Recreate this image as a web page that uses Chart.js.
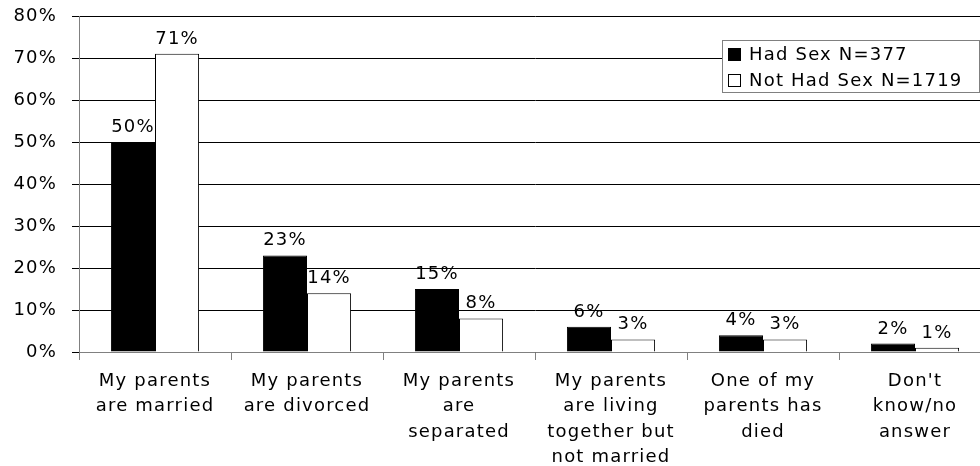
<!DOCTYPE html>
<html>
<head>
<meta charset="utf-8">
<script src="https://cdn.jsdelivr.net/npm/chart.js@4/dist/chart.umd.min.js"></script>
<style>
  html, body { margin: 0; padding: 0; background: #fff; overflow: hidden; }
  #wrap { width: 1000px; height: 466px; }
</style>
</head>
<body>
<div id="wrap"><canvas id="parentsChart" width="1000" height="466"></canvas></div>
<script>
var categories = [
    ['My parents', 'are married'],
    ['My parents', 'are divorced'],
    ['My parents', 'are', 'separated'],
    ['My parents', 'are living', 'together but', 'not married'],
    ['One of my', 'parents has', 'died'],
    ["Don't", 'know/no', 'answer']
];
var hadSex = [50, 23, 15, 6, 4, 2];
var notHadSex = [71, 14, 8, 3, 3, 1];
var seriesLabels = ['Had Sex N=377', 'Not Had Sex N=1719'];
var yTicks = [0, 10, 20, 30, 40, 50, 60, 70, 80];

var FONT = '"DejaVu Sans", Verdana, sans-serif';
var SPACING = '1.2px';

// wider letter spacing, closer to the original Verdana look
var spacing = {
    id: 'spacing',
    beforeLayout: function(chart) { chart.ctx.letterSpacing = SPACING; },
    beforeDraw: function(chart) { chart.ctx.letterSpacing = SPACING; }
};

// value labels above each bar
var valueLabels = {
    id: 'valueLabels',
    afterDatasetsDraw: function(chart) {
        var ctx = chart.ctx;
        ctx.save();
        ctx.letterSpacing = SPACING;
        ctx.font = '18px ' + FONT;
        ctx.fillStyle = '#000';
        ctx.textAlign = 'center';
        ctx.textBaseline = 'alphabetic';
        chart.data.datasets.forEach(function(ds, i) {
            chart.getDatasetMeta(i).data.forEach(function(bar, j) {
                ctx.fillText(ds.data[j] + '%', bar.x, bar.y - 10);
            });
        });
        ctx.restore();
    }
};

// boxed legend inside the plot, top right
var boxLegend = {
    id: 'boxLegend',
    afterDraw: function(chart) {
        var ctx = chart.ctx;
        var x = 722, y = 40, w = 257, h = 52;
        ctx.save();
        ctx.letterSpacing = SPACING;
        ctx.fillStyle = '#fff';
        ctx.fillRect(x, y, w, h);
        ctx.strokeStyle = '#808080';
        ctx.lineWidth = 1;
        ctx.strokeRect(x + 0.5, y + 0.5, w, h);
        ctx.font = '18px ' + FONT;
        ctx.textBaseline = 'middle';
        chart.data.datasets.forEach(function(ds, i) {
            var cy = y + 14 + i * 26;
            ctx.fillStyle = ds.backgroundColor;
            ctx.fillRect(x + 6, cy - 6, 13, 13);
            ctx.strokeStyle = '#000';
            ctx.strokeRect(x + 6.5, cy - 5.5, 12, 12);
            ctx.fillStyle = '#000';
            ctx.fillText(ds.label, x + 27, cy + 1);
        });
        ctx.restore();
    }
};

function renderChart() {
    var ctx = document.getElementById('parentsChart').getContext('2d');
    new Chart(ctx, {
        type: 'bar',
        data: {
            labels: categories,
            datasets: [{
                label: seriesLabels[0],
                data: hadSex,
                backgroundColor: '#000000',
                borderColor: '#000000',
                borderWidth: 1
            }, {
                label: seriesLabels[1],
                data: notHadSex,
                backgroundColor: '#ffffff',
                borderColor: '#000000',
                borderWidth: 1
            }]
        },
        options: {
            responsive: false,
            animation: false,
            categoryPercentage: 0.58,
            barPercentage: 1.0,
            layout: { padding: { top: 16, right: 9, left: 0, bottom: 0 } },
            plugins: {
                legend: { display: false },
                tooltip: { enabled: false }
            },
            scales: {
                x: {
                    offset: true,
                    grid: {
                        offset: true,
                        drawOnChartArea: false,
                        drawTicks: true,
                        tickLength: 8,
                        color: '#808080'
                    },
                    border: { color: '#808080' },
                    ticks: {
                        color: '#000',
                        font: { family: FONT, size: 18, lineHeight: 1.4 },
                        padding: 9,
                        maxRotation: 0,
                        autoSkip: false
                    },
                    afterFit: function(scale) {
                        scale.height = 114;
                        scale.paddingLeft = 0;
                        scale.paddingRight = 0;
                    }
                },
                y: {
                    min: 0,
                    max: 80,
                    afterBuildTicks: function(scale) {
                        scale.ticks = yTicks.map(function(v) { return { value: v }; });
                    },
                    grid: {
                        color: '#000',
                        tickLength: 7,
                        lineWidth: 1
                    },
                    border: { color: '#808080' },
                    ticks: {
                        color: '#000',
                        font: { family: FONT, size: 18 },
                        padding: 15,
                        callback: function(v) { return v + '%'; }
                    },
                    afterFit: function(scale) {
                        scale.width = 79;
                        scale.paddingTop = 0;
                        scale.paddingBottom = 0;
                    }
                }
            }
        },
        plugins: [spacing, valueLabels, boxLegend]
    });
}

document.addEventListener('DOMContentLoaded', renderChart);
</script>
</body>
</html>
